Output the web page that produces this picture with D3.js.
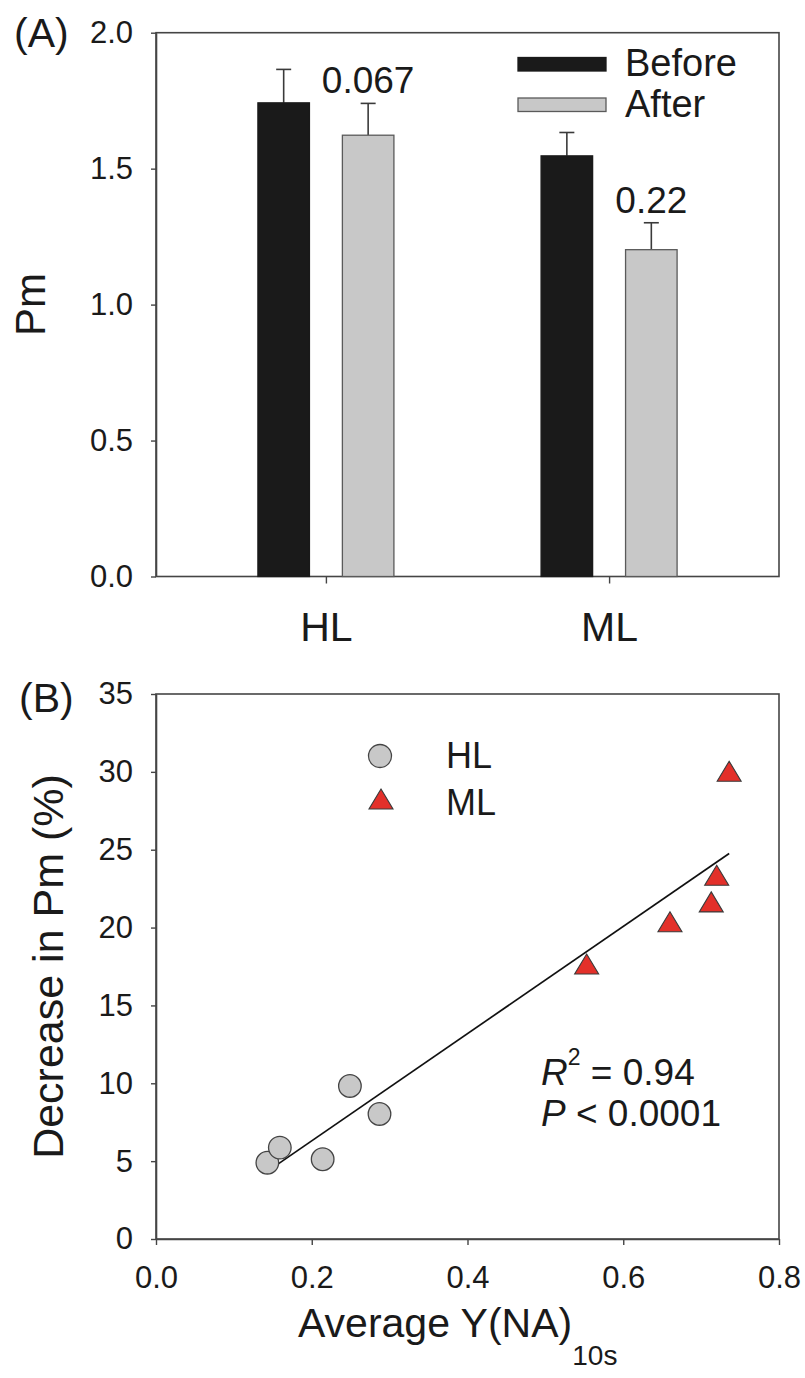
<!DOCTYPE html>
<html><head><meta charset="utf-8">
<script src="https://cdn.jsdelivr.net/npm/d3@7"></script>
<style>
body{margin:0;background:#fff;}
text{font-family:"Liberation Sans",Arial,sans-serif;fill:#1a1a1a;}
</style>
</head><body><svg id="chart" width="805" height="1378"></svg>
<script>
// ---------- Panel A data ----------
const categories = ["HL", "ML"];
const seriesNames = ["Before", "After"];
const beforeMeans = [1.742, 1.547];
const beforeErrors = [0.123, 0.086];
const afterMeans = [1.623, 1.202];
const afterErrors = [0.117, 0.099];
const pValueLabels = ["0.067", "0.22"];
const yTicksA = [0, 0.5, 1.0, 1.5, 2.0];

// ---------- Panel B data ----------
const hlX = [0.143, 0.159, 0.214, 0.249, 0.287];
const hlY = [4.90, 5.87, 5.12, 9.83, 8.03];
const mlX = [0.553, 0.660, 0.713, 0.720, 0.736];
const mlY = [17.66, 20.37, 21.65, 23.36, 30.04];
const yTicksB = [0, 5, 10, 15, 20, 25, 30, 35];
const xTicksB = [0.0, 0.2, 0.4, 0.6, 0.8];
const statR2 = "0.94";
const statP = "0.0001";

const svg = d3.select("#chart");
const axisColor = "#454545";
const FONT_TICK = 31;

function styleAxis(g) {
  g.selectAll(".domain").attr("stroke", axisColor).attr("stroke-width", 1.6);
  g.selectAll(".tick line").attr("stroke", axisColor).attr("stroke-width", 1.4);
  g.selectAll(".tick text").attr("fill", "#1a1a1a").style("font-size", FONT_TICK + "px")
    .style("font-family", '"Liberation Sans", Arial, sans-serif');
}

// ================= PANEL A =================
const xA = d3.scalePoint().domain(categories).range([156, 779]).padding(0.6);
const xSub = d3.scaleBand().domain(seriesNames).range([-68, 68]).paddingInner(0.39);
const yA = d3.scaleLinear().domain([0, 2]).range([576.5, 32.7]);

const gA = svg.append("g");
gA.append("rect")
  .attr("x", 156).attr("y", yA(2))
  .attr("width", 779 - 156).attr("height", yA(0) - yA(2))
  .attr("fill", "none").attr("stroke", axisColor).attr("stroke-width", 1.6);

const barData = [];
categories.forEach((c, i) => {
  barData.push({cat: c, s: "Before", v: beforeMeans[i], e: beforeErrors[i]});
  barData.push({cat: c, s: "After", v: afterMeans[i], e: afterErrors[i]});
});
const fillA = {Before: "#1a1a1a", After: "#c8c8c8"};
const strokeA = {Before: "#1a1a1a", After: "#5a5a5a"};

barData.forEach(d => {
  const cx = xA(d.cat) + xSub(d.s) + xSub.bandwidth() / 2;
  gA.append("line").attr("x1", cx).attr("x2", cx)
    .attr("y1", yA(d.v)).attr("y2", yA(d.v + d.e))
    .attr("stroke", "#3a3a3a").attr("stroke-width", 1.6);
  gA.append("line").attr("x1", cx - 7.5).attr("x2", cx + 7.5)
    .attr("y1", yA(d.v + d.e)).attr("y2", yA(d.v + d.e))
    .attr("stroke", "#3a3a3a").attr("stroke-width", 1.6);
});

gA.selectAll("rect.bar").data(barData).enter().append("rect")
  .attr("class", "bar")
  .attr("x", d => xA(d.cat) + xSub(d.s))
  .attr("y", d => yA(d.v))
  .attr("width", xSub.bandwidth())
  .attr("height", d => yA(0) - yA(d.v))
  .attr("fill", d => fillA[d.s])
  .attr("stroke", d => strokeA[d.s]).attr("stroke-width", 1.3);

categories.forEach((c, i) => {
  const cx = xA(c) + xSub("After") + xSub.bandwidth() / 2;
  gA.append("text").attr("x", cx).attr("y", yA(afterMeans[i] + afterErrors[i]) - 10)
    .attr("text-anchor", "middle").style("font-size", "37px").text(pValueLabels[i]);
});

const axLA = gA.append("g").attr("transform", `translate(156,0)`)
  .call(d3.axisLeft(yA).tickValues(yTicksA).tickFormat(d3.format(".1f"))
    .tickSize(5).tickSizeOuter(0).tickPadding(18));
styleAxis(axLA);
const axBA = gA.append("g").attr("transform", `translate(0,${yA(0)})`)
  .call(d3.axisBottom(xA).tickSize(7).tickSizeOuter(0).tickPadding(28));
styleAxis(axBA);
axBA.selectAll(".domain").remove();
axBA.selectAll(".tick text").style("font-size", "41px");

gA.append("text").attr("transform", `translate(45,${(yA(0) + yA(2)) / 2}) rotate(-90)`)
  .attr("text-anchor", "middle").style("font-size", "42px").text("Pm");
gA.append("text").attr("x", 14).attr("y", 47).style("font-size", "41px").text("(A)");

const legA = gA.append("g");
seriesNames.forEach((s, i) => {
  legA.append("rect").attr("x", 518).attr("y", 57.5 + i * 40.5)
    .attr("width", 88).attr("height", 13.5)
    .attr("fill", fillA[s]).attr("stroke", strokeA[s]).attr("stroke-width", 1.3);
  legA.append("text").attr("x", 625).attr("y", 76 + i * 40.5)
    .style("font-size", "38px").text(s);
});

// ================= PANEL B =================
const xB = d3.scaleLinear().domain([0, 0.8]).range([156, 779]);
const yB = d3.scaleLinear().domain([0, 35]).range([1239, 694]);
const gB = svg.append("g");

gB.append("rect")
  .attr("x", xB(0)).attr("y", yB(35))
  .attr("width", xB(0.8) - xB(0)).attr("height", yB(0) - yB(35))
  .attr("fill", "none").attr("stroke", axisColor).attr("stroke-width", 1.6);

const allX = hlX.concat(mlX), allY = hlY.concat(mlY);
const mx = d3.mean(allX), my = d3.mean(allY);
const slope = d3.sum(allX.map((x, i) => (x - mx) * (allY[i] - my))) /
              d3.sum(allX.map(x => (x - mx) * (x - mx)));
const intercept = my - slope * mx;
const [x0, x1] = d3.extent(allX);
gB.append("line")
  .attr("x1", xB(x0)).attr("y1", yB(intercept + slope * x0))
  .attr("x2", xB(x1)).attr("y2", yB(intercept + slope * x1))
  .attr("stroke", "#111").attr("stroke-width", 1.7);

const triW = 24, triH = 20;
const triPath = `M0,${-triH / 2}L${triW / 2},${triH / 2}L${-triW / 2},${triH / 2}Z`;

gB.selectAll("circle.hl").data(hlX.map((x, i) => [x, hlY[i]])).enter()
  .append("circle").attr("class", "hl")
  .attr("cx", d => xB(d[0])).attr("cy", d => yB(d[1])).attr("r", 11.3)
  .attr("fill", "#c8c8c8").attr("stroke", "#444").attr("stroke-width", 1.3);

gB.selectAll("path.ml").data(mlX.map((x, i) => [x, mlY[i]])).enter()
  .append("path").attr("class", "ml").attr("d", triPath)
  .attr("transform", d => `translate(${xB(d[0])},${yB(d[1])})`)
  .attr("fill", "#e3302a").attr("stroke", "#3a3a3a").attr("stroke-width", 1.1);

const axLB = gB.append("g").attr("transform", `translate(${xB(0)},0)`)
  .call(d3.axisLeft(yB).tickValues(yTicksB).tickFormat(d3.format("d"))
    .tickSize(5).tickSizeOuter(0).tickPadding(18));
styleAxis(axLB);
const axBB = gB.append("g").attr("transform", `translate(0,${yB(0)})`)
  .call(d3.axisBottom(xB).tickValues(xTicksB).tickFormat(d3.format(".1f"))
    .tickSize(6).tickSizeOuter(0).tickPadding(21));
styleAxis(axBB);

gB.append("text").attr("transform", `translate(63,${(yB(0) + yB(35)) / 2}) rotate(-90)`)
  .attr("text-anchor", "middle").style("font-size", "43px").text("Decrease in Pm (%)");
const xt = gB.append("text").attr("x", 298).attr("y", 1337).style("font-size", "41px");
xt.append("tspan").text("Average Y(NA)");
xt.append("tspan").attr("dy", 28).style("font-size", "28px").text("10s");
gB.append("text").attr("x", 19).attr("y", 712).style("font-size", "41px").text("(B)");

gB.append("circle").attr("cx", 380).attr("cy", 756).attr("r", 11.5)
  .attr("fill", "#c8c8c8").attr("stroke", "#444").attr("stroke-width", 1.3);
gB.append("path").attr("d", triPath).attr("transform", "translate(381,799)")
  .attr("fill", "#e3302a").attr("stroke", "#3a3a3a").attr("stroke-width", 1.1);
gB.append("text").attr("x", 446).attr("y", 768).style("font-size", "36px").text("HL");
gB.append("text").attr("x", 446).attr("y", 815).style("font-size", "36px").text("ML");

const st1 = gB.append("text").attr("x", 541).attr("y", 1085).style("font-size", "37px");
st1.append("tspan").style("font-style", "italic").text("R");
st1.append("tspan").attr("dy", -20).style("font-size", "23px").text("2");
st1.append("tspan").attr("dy", 20).text(" = " + statR2);
const st2 = gB.append("text").attr("x", 541).attr("y", 1126).style("font-size", "37px");
st2.append("tspan").style("font-style", "italic").text("P");
st2.append("tspan").text(" < " + statP);
</script>
</body></html>
